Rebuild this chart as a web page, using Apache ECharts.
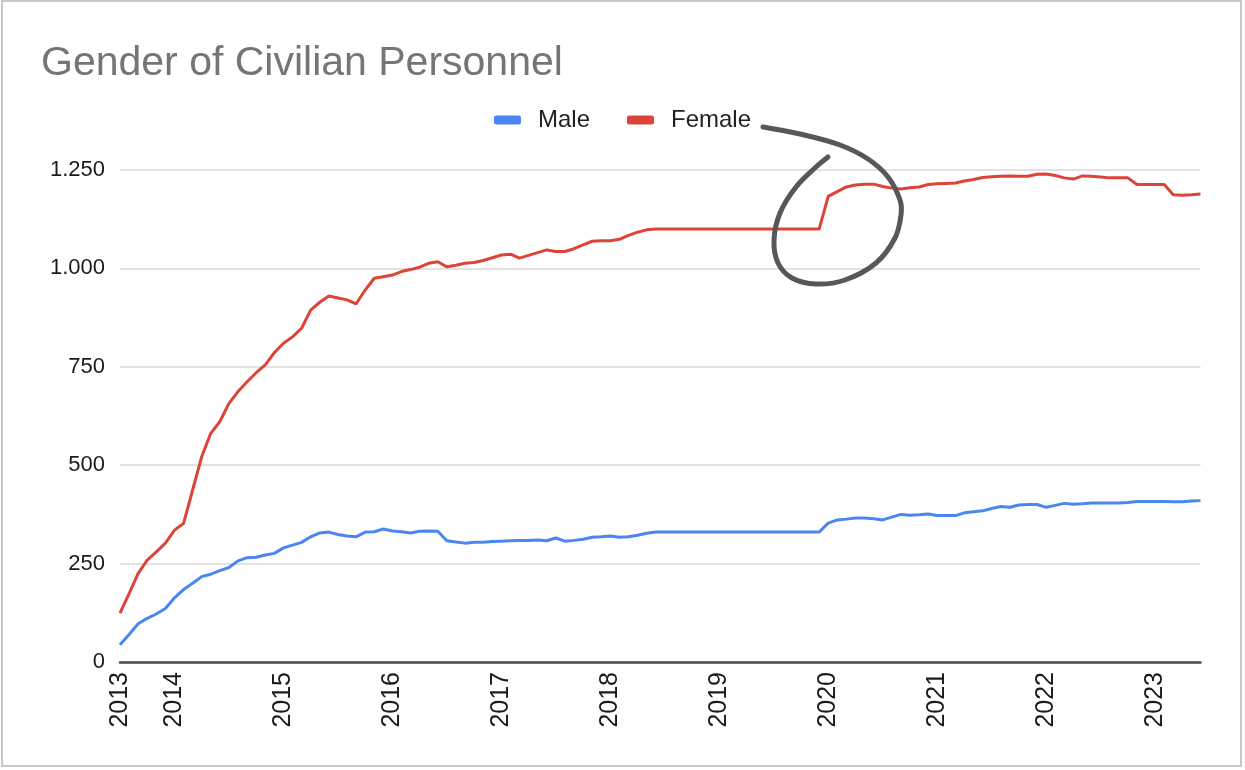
<!DOCTYPE html>
<html>
<head>
<meta charset="utf-8">
<script src="https://cdn.jsdelivr.net/npm/echarts@6/dist/echarts.min.js"></script>
<style>
html,body{margin:0;padding:0;background:#fff;}
#chart{width:1245px;height:770px;}
</style>
</head>
<body>
<div id="chart"></div>
<script>
// Monthly categories, July 2013 .. June 2023
const months = [
  "2013-07","2013-08","2013-09","2013-10","2013-11","2013-12",
  "2014-01","2014-02","2014-03","2014-04","2014-05","2014-06","2014-07","2014-08","2014-09","2014-10","2014-11","2014-12",
  "2015-01","2015-02","2015-03","2015-04","2015-05","2015-06","2015-07","2015-08","2015-09","2015-10","2015-11","2015-12",
  "2016-01","2016-02","2016-03","2016-04","2016-05","2016-06","2016-07","2016-08","2016-09","2016-10","2016-11","2016-12",
  "2017-01","2017-02","2017-03","2017-04","2017-05","2017-06","2017-07","2017-08","2017-09","2017-10","2017-11","2017-12",
  "2018-01","2018-02","2018-03","2018-04","2018-05","2018-06","2018-07","2018-08","2018-09","2018-10","2018-11","2018-12",
  "2019-01","2019-02","2019-03","2019-04","2019-05","2019-06","2019-07","2019-08","2019-09","2019-10","2019-11","2019-12",
  "2020-01","2020-02","2020-03","2020-04","2020-05","2020-06","2020-07","2020-08","2020-09","2020-10","2020-11","2020-12",
  "2021-01","2021-02","2021-03","2021-04","2021-05","2021-06","2021-07","2021-08","2021-09","2021-10","2021-11","2021-12",
  "2022-01","2022-02","2022-03","2022-04","2022-05","2022-06","2022-07","2022-08","2022-09","2022-10","2022-11","2022-12",
  "2023-01","2023-02","2023-03","2023-04","2023-05","2023-06"
];

const male = [
  44,70,97,111,122,136,
  163,184,200,217,223,232,240,257,265,266,272,276,
  290,297,304,318,328,330,324,320,318,330,331,338,
  333,331,328,332,333,332,308,305,302,304,304,306,
  307,308,309,309,310,308,315,307,309,312,317,318,
  320,317,318,322,327,330,330,330,330,330,330,330,
  330,330,330,330,330,330,330,330,330,330,330,330,
  353,361,363,366,366,364,361,368,375,373,374,376,
  372,372,372,379,382,384,390,395,393,399,400,400,
  393,398,403,401,402,404,404,404,404,405,408,408,
  408,408,407,407,409,410
];

const female = [
  124,174,225,259,280,302,
  335,352,437,522,581,611,657,687,712,735,755,786,
  810,826,848,894,914,930,925,920,910,945,975,979,
  983,992,997,1003,1013,1017,1004,1008,1013,1015,1020,1027,
  1034,1036,1026,1033,1040,1047,1043,1043,1050,1060,1069,1070,
  1070,1074,1084,1092,1098,1100,1100,1100,1100,1100,1100,1100,
  1100,1100,1100,1100,1100,1100,1100,1100,1100,1100,1100,1100,
  1183,1195,1207,1212,1214,1214,1208,1204,1202,1205,1207,1213,
  1215,1216,1217,1222,1226,1231,1233,1234,1235,1234,1234,1239,
  1240,1236,1230,1227,1235,1234,1232,1230,1230,1230,1213,1213,
  1213,1213,1187,1186,1187,1189
];

const yTickLabels = ["0","250","500","750","1.000","1.250"];
const seriesNames = ["Male","Female"];
const titleText = "Gender of Civilian Personnel";

const FONT = "'Liberation Sans', Arial, Helvetica, sans-serif";
const chart = echarts.init(document.getElementById('chart'));

chart.setOption({
  animation: false,
  backgroundColor: '#ffffff',
  title: {
    text: titleText,
    left: 36,
    top: 38,
    textStyle: { fontFamily: FONT, fontSize: 41, fontWeight: 'normal', color: '#757575' }
  },
  legend: {
    data: seriesNames,
    top: 103,
    left: 'center',
    icon: 'roundRect',
    itemWidth: 27,
    itemHeight: 9,
    itemGap: 37,
    textStyle: { fontFamily: FONT, fontSize: 24, color: '#222222', padding: [0, 0, 0, 12] }
  },
  grid: { left: 120, right: 44.5, top: 170, bottom: 108, containLabel: false },
  xAxis: {
    type: 'category',
    data: months,
    boundaryGap: false,
    axisLine: { show: true, lineStyle: { color: '#4a4a4a', width: 2.5 } },
    axisTick: { show: false },
    splitLine: { show: false },
    axisLabel: {
      rotate: 90,
      margin: 10,
      fontFamily: FONT,
      fontSize: 25,
      color: '#1a1a1a',
      interval: function (idx, val) { return idx === 0 || val.slice(5) === '01'; },
      formatter: function (val) { return val.slice(0, 4); }
    }
  },
  yAxis: {
    type: 'value',
    min: 0,
    max: 1250,
    interval: 250,
    axisLine: { show: false },
    axisTick: { show: false },
    splitLine: { lineStyle: { color: '#d9d9d9', width: 1.5 } },
    axisLabel: {
      margin: 15,
      fontFamily: FONT,
      fontSize: 22,
      color: '#1a1a1a',
      formatter: function (v) { return yTickLabels[Math.round(v / 250)]; }
    }
  },
  series: [
    {
      name: seriesNames[0], type: 'line', data: male, showSymbol: false, symbol: 'none',
      lineStyle: { color: '#4a86f0', width: 3 }, itemStyle: { color: '#4a86f0' }, z: 3
    },
    {
      name: seriesNames[1], type: 'line', data: female, showSymbol: false, symbol: 'none',
      lineStyle: { color: '#dc4437', width: 3 }, itemStyle: { color: '#dc4437' }, z: 4
    }
  ],
  graphic: [
    {
      type: 'rect', silent: true, z: 100,
      shape: { x: 2, y: 1, width: 1239, height: 765 },
      style: { fill: 'none', stroke: '#c8c8c8', lineWidth: 2 }
    },
    {
      type: 'polyline', silent: true, z: 100,
      shape: {
        points: [[763,127],[800,134],[840,145],[868,159],[888,177],[900,200],[901,215],[895,238],[876,263],[845,280],[816,284],[792,278],[778,263],[774,240],[780,213],[796,187],[816,167],[828,157]],
        smooth: 0.35
      },
      style: { fill: 'none', stroke: '#575757', lineWidth: 5, lineCap: 'round', lineJoin: 'round' }
    }
  ]
});
</script>
</body>
</html>
